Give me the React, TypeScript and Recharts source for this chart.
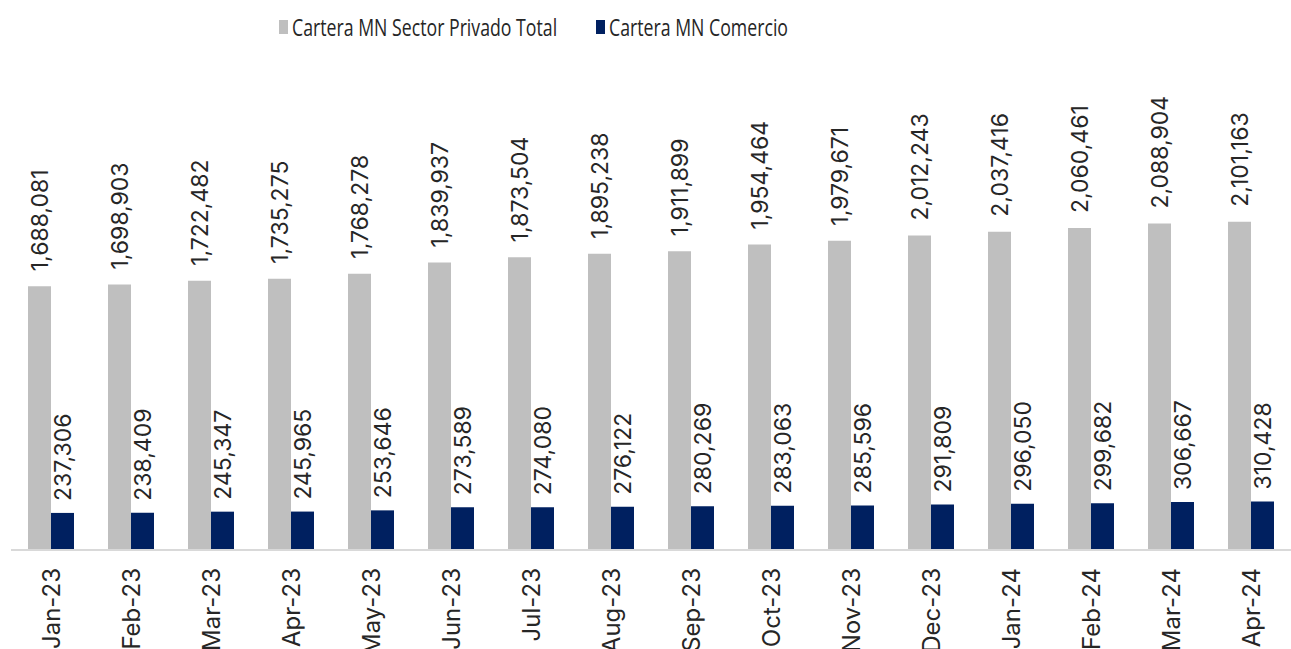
import { Bar, BarChart, LabelList, XAxis, YAxis } from "recharts";

const categories = [
  "Jan-23", "Feb-23", "Mar-23", "Apr-23", "May-23", "Jun-23", "Jul-23", "Aug-23",
  "Sep-23", "Oct-23", "Nov-23", "Dec-23", "Jan-24", "Feb-24", "Mar-24", "Apr-24",
];

const totalValues = [
  1688081, 1698903, 1722482, 1735275, 1768278, 1839937, 1873504, 1895238,
  1911899, 1954464, 1979671, 2012243, 2037416, 2060461, 2088904, 2101163,
];

const comercioValues = [
  237306, 238409, 245347, 245965, 253646, 273589, 274080, 276122,
  280269, 283063, 285596, 291809, 296050, 299682, 306667, 310428,
];

const TOTAL_COLOR = "#bfbfbf";
const COMERCIO_COLOR = "#002060";
const TEXT_COLOR = "#262626";
const FONT = "Inter, 'Open Sans', sans-serif";

const data = categories.map((month, i) => ({
  month,
  total: totalValues[i],
  comercio: comercioValues[i],
}));

function fmt(v: number) {
  return v.toLocaleString("en-US");
}

function makeLabel(gap: number) {
  return (props: any) => {
    const { x, y, width, value } = props;
    const cx = Number(x) + Number(width) / 2;
    const ty = Number(y) - gap;
    return (
      <text
        x={cx}
        y={ty}
        transform={`rotate(-90, ${cx}, ${ty})`}
        textAnchor="start"
        dy="0.36em"
        fill={TEXT_COLOR}
        fontSize={23}
        fontFamily={FONT}
      >
        {fmt(Number(value))}
      </text>
    );
  };
}

function MonthTick(props: any) {
  const { x, y, payload } = props;
  const ty = Number(y) + 10;
  return (
    <text
      x={x}
      y={ty}
      transform={`rotate(-90, ${x}, ${ty})`}
      textAnchor="end"
      dy="0.36em"
      fill={TEXT_COLOR}
      fontSize={24}
      fontFamily={FONT}
    >
      {payload.value}
    </text>
  );
}

// legend text in the source is horizontally squeezed
function LegendItem({ color, label, left }: { color: string; label: string; left: number }) {
  return (
    <div style={{ position: "absolute", left, top: 12, height: 30, display: "flex", alignItems: "center" }}>
      <span style={{ width: 9, height: 14, background: color, marginRight: 4, flex: "none" }} />
      <span
        style={{
          display: "inline-block",
          whiteSpace: "nowrap",
          transform: "scaleX(0.77)",
          transformOrigin: "left center",
        }}
      >
        {label}
      </span>
    </div>
  );
}

export default function App() {
  return (
    <div style={{ position: "fixed", left: 0, top: 0, width: 1291, height: 649, background: "#fff", overflow: "hidden" }}>
      <div
        style={{
          fontFamily: "'Open Sans', sans-serif",
          fontSize: 23,
          color: TEXT_COLOR,
          lineHeight: "30px",
        }}
      >
        <LegendItem color={TOTAL_COLOR} label="Cartera MN Sector Privado Total" left={279} />
        <LegendItem color={COMERCIO_COLOR} label="Cartera MN Comercio" left={596} />
      </div>
      <BarChart
        width={1291}
        height={649}
        data={data}
        margin={{ top: 60, right: 0, left: 11, bottom: 0 }}
        barGap={0}
        barSize={23}
      >
        <XAxis
          dataKey="month"
          interval={0}
          height={99}
          tickLine={false}
          axisLine={{ stroke: "#d9d9d9", strokeWidth: 2 }}
          tick={<MonthTick />}
        />
        <YAxis hide domain={[0, 3136000]} />
        <Bar dataKey="total" fill={TOTAL_COLOR} isAnimationActive={false}>
          <LabelList dataKey="total" content={makeLabel(15)} />
        </Bar>
        <Bar dataKey="comercio" fill={COMERCIO_COLOR} isAnimationActive={false}>
          <LabelList dataKey="comercio" content={makeLabel(12)} />
        </Bar>
      </BarChart>
    </div>
  );
}
